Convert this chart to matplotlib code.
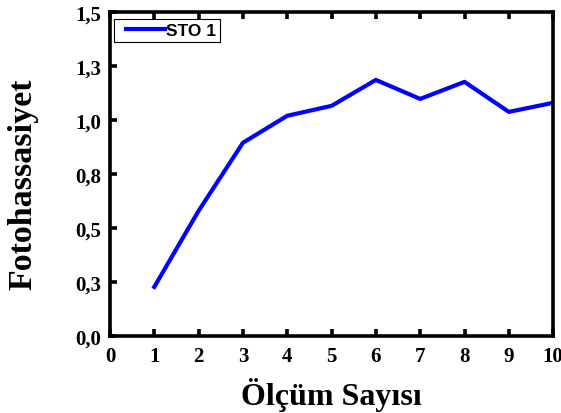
import numpy as np
import matplotlib
matplotlib.use("Agg")
import matplotlib.pyplot as plt
from matplotlib.legend_handler import HandlerLine2D

# measurement index and photosensitivity of sample STO 1
olcum = [1, 2, 3, 4, 5, 6, 7, 8, 9, 10]
sto1 = [0.227, 0.579, 0.894, 1.019, 1.065, 1.185, 1.097, 1.176, 1.037, 1.079]

y_ticks = [0.0, 0.25, 0.5, 0.75, 1.0, 1.25, 1.5]
y_labels = ["0,0", "0,3", "0,5", "0,8", "1,0", "1,3", "1,5"]
x_ticks = list(range(0, 11))

serif = "Liberation Serif"

fig = plt.figure(figsize=(5.61, 4.14), dpi=100)
ax = fig.add_axes([0.196, 0.186, 0.790, 0.783])

line, = ax.plot(olcum, sto1, color="#0000ff", lw=3.0, label="STO 1")

ax.set_xlim(0, 10)
ax.set_ylim(0, 1.5)
ax.set_xticks(x_ticks)
ax.set_yticks(y_ticks)
ax.set_yticklabels(y_labels)

for s in ax.spines.values():
    s.set_linewidth(2.6)
    s.set_color("black")

ax.tick_params(axis="both", direction="in", length=5, width=2.6,
               labelsize=15)
ax.tick_params(axis="x", top=True, labeltop=False, pad=7)
ax.tick_params(axis="y", pad=6)
for lab in ax.get_xticklabels() + ax.get_yticklabels():
    lab.set_fontfamily(serif)
    lab.set_fontweight("bold")

ax.set_xlabel("Ölçüm Sayısı", fontfamily=serif, fontweight="bold",
              fontsize=23, labelpad=8)
ax.set_ylabel("Fotohassasiyet", fontfamily=serif, fontweight="bold",
              fontsize=24.5, labelpad=27)
ax.yaxis.label.set_y(0.472)

# legend box sits just inside the top-left corner
leg = ax.legend(handles=[line], loc="upper left",
                bbox_to_anchor=(4 / 443, 1 - 7 / 324),
                prop={"family": "Liberation Sans", "weight": "bold", "size": 12.5},
                fancybox=False, edgecolor="black", framealpha=1,
                borderpad=0.23, handlelength=2.7, handletextpad=0.05,
                borderaxespad=0,
                handler_map={line: HandlerLine2D(xpad=0.46)})
leg.get_frame().set_linewidth(0.8)

fig.savefig("out.png", dpi=100)
